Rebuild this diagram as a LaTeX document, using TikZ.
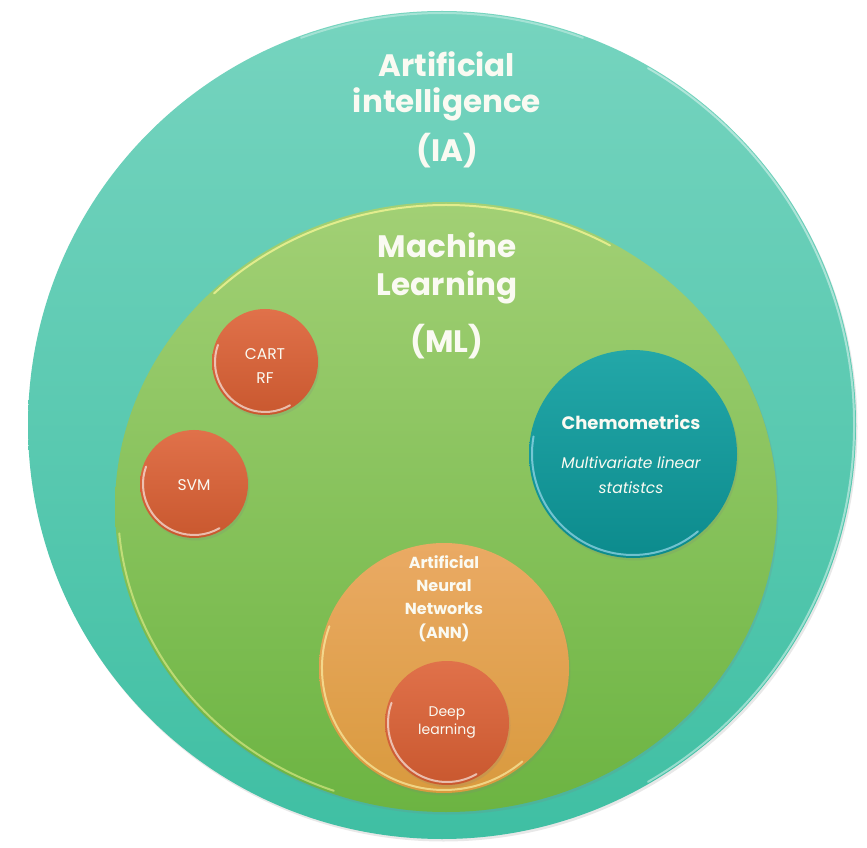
\documentclass[tikz,border=0pt]{standalone}
\usepackage{fontspec}
\setmainfont{Poppins}
\usetikzlibrary{shapes.geometric,shadows}

\definecolor{aiTop}{HTML}{76D4BF}
\definecolor{aiBot}{HTML}{3FBFA3}
\definecolor{mlTop}{HTML}{A2D075}
\definecolor{mlBot}{HTML}{6CB442}
\definecolor{redTop}{HTML}{E0714A}
\definecolor{redBot}{HTML}{C9582F}
\definecolor{chemTop}{HTML}{23A7A8}
\definecolor{chemBot}{HTML}{0C8B8D}
\definecolor{annTop}{HTML}{EAAA64}
\definecolor{annBot}{HTML}{D99A3E}
\definecolor{txt}{HTML}{FAFAF2}

% glossy rim drawn along the inside of a round node
\newcommand{\rimarc}[5]{%
  \draw[#5] ([shift={(#3:#2)}]#1.center) arc[start angle=#3, end angle=#4, radius=#2];}

\begin{document}
\begin{tikzpicture}[x=1pt,y=1pt,
  disc/.style={circle, inner sep=0pt, minimum size=#1},
  soft/.style={drop shadow={opacity=0.18, shadow xshift=1.5pt, shadow yshift=-2.5pt}},
  line/.style={text=txt, inner sep=0pt, anchor=base},
  bigtext/.style={line, font=\fontsize{31}{36}\bfseries},
  smalltext/.style={line, font=\fontsize{15.5}{18}\selectfont},
  rim/.style={line width=2pt, line cap=round, draw=white, opacity=0.6}]

\useasboundingbox[fill=white] (0,0) rectangle (867,847);

% Artificial intelligence
\node[disc=828pt, top color=aiTop, bottom color=aiBot, soft] (ai) at (442,422) {};
\rimarc{ai}{412pt}{-60}{60}{rim, opacity=0.45}
\rimarc{ai}{412pt}{70}{110}{rim, opacity=0.35}
\node[bigtext] (ai1) at (447,770) {Artificial};
\node[bigtext] (ai2) at (447,734) {intelligence};
\node[bigtext] (ai3) at (447,685) {(IA)};

% Machine learning
\node[ellipse, inner sep=0pt, minimum width=662pt, minimum height=610pt,
      top color=mlTop, bottom color=mlBot, soft] (ml) at (446,340) {};
\draw[rim, draw=yellow!40!white, opacity=0.7]
  ([shift={(60:328pt and 302pt)}]ml.center) arc[start angle=60, end angle=135, x radius=328pt, y radius=302pt];
\draw[rim, draw=yellow!40!white, opacity=0.5]
  ([shift={(185:328pt and 302pt)}]ml.center) arc[start angle=185, end angle=250, x radius=328pt, y radius=302pt];
\node[bigtext] (ml1) at (447,589) {Machine};
\node[bigtext] (ml2) at (447,551) {Learning};
\node[bigtext] (ml3) at (447,494) {(ML)};

% CART / RF
\node[disc=106pt, top color=redTop, bottom color=redBot, soft] (cart) at (265,485) {};
\rimarc{cart}{50pt}{160}{300}{rim}
\node[smalltext] (cart1) at (265,487) {CART};
\node[smalltext] (cart2) at (265,463) {RF};

% SVM
\node[disc=108pt, top color=redTop, bottom color=redBot, soft] (svm) at (194,363) {};
\rimarc{svm}{51pt}{160}{300}{rim}
\node[smalltext] (svm1) at (194,357) {SVM};

% Chemometrics
\node[disc=208pt, top color=chemTop, bottom color=chemBot, soft] (chem) at (633,393) {};
\rimarc{chem}{101pt}{170}{310}{rim, draw=cyan!30!white}
\node[line, font=\fontsize{18}{21}\bfseries] (chem1) at (631,417) {Chemometrics};
\node[line, font=\fontsize{15.5}{18}\itshape] (chem2) at (631,378) {Multivariate linear};
\node[line, font=\fontsize{15.5}{18}\itshape] (chem3) at (631,354) {statistcs};

% Artificial neural networks
\node[disc=250pt, top color=annTop, bottom color=annBot, soft] (ann) at (444,179) {};
\rimarc{ann}{122pt}{160}{310}{rim, draw=yellow!30!white}
\node[line, font=\fontsize{16}{19}\bfseries] (ann1) at (444,279) {Artificial};
\node[line, font=\fontsize{16}{19}\bfseries] (ann2) at (444,256) {Neural};
\node[line, font=\fontsize{16}{19}\bfseries] (ann3) at (444,233) {Networks};
\node[line, font=\fontsize{16}{19}\bfseries] (ann4) at (444,209) {(ANN)};

% Deep learning
\node[disc=124pt, top color=redTop, bottom color=redBot, soft] (deep) at (447,124) {};
\rimarc{deep}{59pt}{160}{300}{rim}
\node[line, font=\fontsize{14}{17}\selectfont] (deep1) at (447,131) {Deep};
\node[line, font=\fontsize{14}{17}\selectfont] (deep2) at (447,113) {learning};

\end{tikzpicture}
\end{document}
